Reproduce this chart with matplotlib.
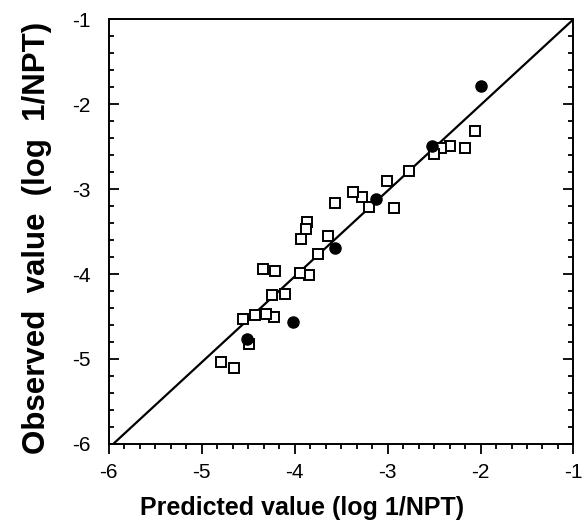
import numpy as np
import matplotlib
matplotlib.use("Agg")
import matplotlib.pyplot as plt
from matplotlib.ticker import MultipleLocator, AutoMinorLocator

plt.rcParams['font.family'] = 'Liberation Sans'
plt.rcParams['axes.unicode_minus'] = False

# training set (open squares)
sq_pred = [-2.06, -2.17, -2.33, -2.43, -2.50, -2.77, -2.93, -3.01, -3.20, -3.28,
           -3.37, -3.56, -3.64, -3.75, -3.87, -3.88, -3.93, -3.84, -3.94, -4.10,
           -4.21, -4.24, -4.34, -4.22, -4.31, -4.43, -4.55, -4.49, -4.65, -4.79]
sq_obs = [-2.31, -2.52, -2.49, -2.52, -2.59, -2.79, -3.22, -2.90, -3.21, -3.09,
          -3.03, -3.16, -3.55, -3.76, -3.39, -3.47, -3.59, -4.01, -3.99, -4.24,
          -3.97, -4.25, -3.94, -4.51, -4.47, -4.48, -4.53, -4.82, -5.11, -5.04]

# test set (filled circles)
ci_pred = [-1.99, -2.52, -3.12, -3.56, -4.02, -4.51]
ci_obs = [-1.78, -2.49, -3.12, -3.69, -4.57, -4.76]

line_x = [-5.95, -1.0]
line_y = [-6.0, -1.0]

fig = plt.figure(figsize=(5.84, 5.21), dpi=100)
ax = fig.add_axes([0.186, 0.148, 0.796, 0.815])

ax.plot(line_x, line_y, color='black', linewidth=1.6, zorder=1)
ax.plot(sq_pred, sq_obs, 's', markersize=7.2, markerfacecolor='white',
        markeredgecolor='black', markeredgewidth=1.4, zorder=2)
ax.plot(ci_pred, ci_obs, 'o', markersize=8, color='black', zorder=3)

ax.set_xlim(-6, -1)
ax.set_ylim(-6, -1)
ax.xaxis.set_major_locator(MultipleLocator(1))
ax.yaxis.set_major_locator(MultipleLocator(1))
ax.xaxis.set_minor_locator(AutoMinorLocator(6))
ax.yaxis.set_minor_locator(AutoMinorLocator(5))

ax.tick_params(axis='x', which='both', direction='out', top=False, labelsize=15, width=1.3, pad=7)
ax.tick_params(axis='x', which='major', length=7)
ax.tick_params(axis='x', which='minor', length=3.5)
ax.tick_params(axis='y', which='both', direction='in', left=True, right=True, labelsize=15, width=1.3, pad=13)
ax.tick_params(axis='y', which='major', length=7)
ax.tick_params(axis='y', which='minor', length=3.5)

for s in ax.spines.values():
    s.set_linewidth(1.4)

fig.text(302 / 584, 1 - 508 / 521, 'Predicted value (log 1/NPT)', fontsize=18,
         fontweight='bold', ha='center', va='center')
fig.text(37 / 584, 1 - 238 / 521, 'Observed  value  (log  1/NPT)', fontsize=22.5,
         fontweight='bold', ha='center', va='center', rotation=90)

fig.savefig('out.png', dpi=100)
